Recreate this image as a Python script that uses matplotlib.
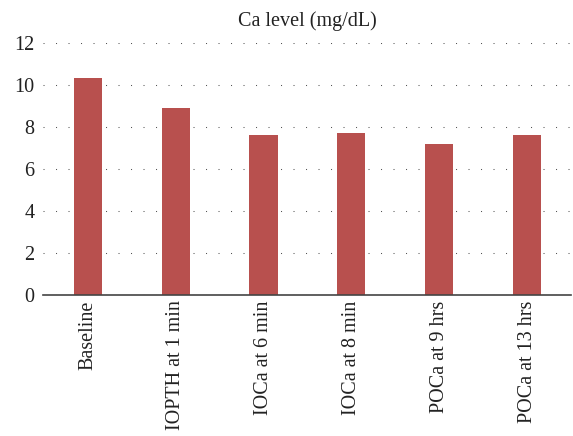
import matplotlib.pyplot as plt

# Data
labels = ["Baseline", "IOPTH at 1 min", "IOCa at 6 min", "IOCa at 8 min",
          "POCa at 9 hrs", "POCa at 13 hrs"]
ca_level = [10.33, 8.9, 7.62, 7.71, 7.19, 7.62]
yticks = [0, 2, 4, 6, 8, 10, 12]

plt.rcParams['font.family'] = ['Liberation Serif', 'DejaVu Serif']

fig = plt.figure(figsize=(5.73, 4.36), dpi=100)
ax = fig.add_axes([43 / 573, 141 / 436, 528 / 573, 252 / 436])

ax.bar(range(len(labels)), ca_level, width=0.32, color="#b8504e", zorder=3)

ax.set_xlim(-0.51, 5.5)
ax.set_ylim(0, 12)
ax.set_yticks(yticks)
ax.set_xticks(range(len(labels)))
ax.set_xticklabels(labels, rotation=90)
ax.tick_params(axis="both", length=0, labelsize=14.5, colors="#222222")
ax.tick_params(axis="x", pad=4)
ax.tick_params(axis="y", pad=6)

ax.yaxis.grid(True, linestyle=(0, (1, 11)), linewidth=0.75, color="#555555", zorder=0)
ax.set_axisbelow(True)

for s in ["left", "right", "top"]:
    ax.spines[s].set_visible(False)
ax.spines["bottom"].set_color("#444444")
ax.spines["bottom"].set_linewidth(1.2)
ax.spines["bottom"].set_zorder(4)

ax.set_title("Ca level (mg/dL)", fontsize=14.5, pad=12, color="#222222")

fig.savefig("out.png", dpi=100)
